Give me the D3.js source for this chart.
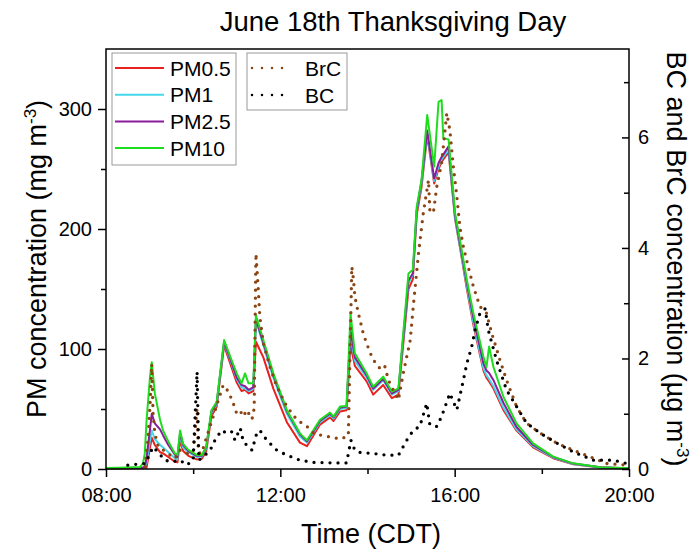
<!DOCTYPE html>
<html>
<head>
<meta charset="utf-8">
<script src="https://cdn.jsdelivr.net/npm/d3@7"></script>
<style>
  body { margin: 0; background: #fff; }
  svg { font-family: "Liberation Sans", Arial, sans-serif; }
</style>
</head>
<body>
<svg id="chart"></svg>
<script>
// time in decimal hours (CDT)
const pmTime = [8.00, 8.30, 8.60, 8.78, 8.85, 8.89, 8.93, 9.01, 9.05, 9.12,
  9.24, 9.31, 9.43, 9.58, 9.64, 9.70, 9.77, 9.89, 10.08, 10.20,
  10.30, 10.42, 10.54, 10.71, 10.85, 11.00, 11.11, 11.19, 11.27, 11.38,
  11.44, 11.61, 11.84, 12.15, 12.45, 12.61, 12.91, 13.14, 13.22, 13.37,
  13.52, 13.61, 13.71, 13.98, 14.13, 14.36, 14.56, 14.71, 14.94, 15.04,
  15.13, 15.24, 15.37, 15.53, 15.63, 15.70, 15.74, 15.86, 16.01, 16.12,
  16.28, 16.43, 16.66, 16.73, 16.79, 16.89, 17.12, 17.42, 17.80, 18.26,
  18.72, 19.34, 20.00];

const pm05 = [0.5, 0.5, 0.6, 0.6, 0.7, 0.8, 1, 18, 26, 20,
  14, 13, 10, 6, 5.5, 24, 15, 11, 8, 8.5,
  15, 44, 52, 103, 88, 72, 65, 66, 63, 65,
  106, 93, 67, 39, 22, 19, 37, 43, 40, 48,
  49, 103, 86, 73, 62, 70, 59, 62, 150, 158,
  212, 235, 278, 238, 250, 256, 258, 264, 208, 185,
  150, 120, 82, 76, 73, 67, 49, 32, 18, 9,
  4, 1.2, 0.5];

const pm1 = [0.6, 0.6, 0.8, 0.8, 0.9, 1.2, 5, 24, 32, 25,
  20, 18, 14, 9, 8, 28, 18, 14, 10, 10.5,
  17, 47, 54, 105, 91, 75, 68, 67, 65, 67,
  124, 103, 76, 46, 27, 22, 39, 45, 42, 50,
  51, 112, 90, 76, 66, 74, 62, 65, 155, 162,
  215, 238, 280, 240, 252, 258, 260, 266, 209, 186,
  152, 122, 84, 78, 75, 69, 51, 33, 19, 9.5,
  4.2, 1.3, 0.5];

const pm25 = [0.7, 0.7, 0.9, 1.0, 1.2, 2, 9, 33, 46, 38,
  33, 28, 20, 12, 10, 30, 20, 15, 11, 11,
  18, 48, 55, 106, 92, 76, 70, 69, 66, 68,
  125, 105, 78, 48, 29, 23, 40, 46, 43, 51,
  52, 116, 93, 78, 67, 75, 63, 66, 157, 163,
  216, 240, 282, 242, 255, 260, 262, 269, 211, 188,
  155, 126, 88, 82, 80, 74, 55, 35, 20, 10,
  4.5, 1.4, 0.6];

const pm10 = [0.8, 1.0, 1.4, 1.6, 5, 13, 40, 77, 89, 63,
  41, 32, 23, 13, 11.7, 32, 21, 16, 11.7, 11.7,
  18.6, 49, 56, 107.5, 93.6, 79.7, 71.4, 79.7, 71.4, 71.4,
  128, 107.5, 79.7, 49, 29.7, 24, 41, 47, 43.6, 52,
  52.5, 129.7, 96.4, 79.7, 68.6, 77, 64.4, 67.2, 163, 166,
  218.6, 240.8, 295, 252, 306, 307.5, 275.6, 274.7, 213, 191,
  157.5, 129.7, 93.6, 85, 102, 85, 60, 38, 21.4, 10.3,
  4.7, 1.4, 0.6];

const brcTime = [8.90, 8.97, 9.02, 9.05, 9.08, 9.12, 9.20, 9.30, 9.47, 9.58,
  9.70, 9.85, 10.00, 10.09, 10.12, 10.19, 10.31, 10.46, 10.58, 10.69,
  10.81, 10.92, 11.00, 11.08, 11.15, 11.23, 11.35, 11.40, 11.44, 11.49,
  11.53, 11.61, 11.76, 11.92, 12.15, 12.38, 12.61, 12.76, 12.99, 13.22,
  13.37, 13.56, 13.64, 13.68, 13.71, 13.79, 13.90, 13.98, 14.10, 14.21,
  14.33, 14.40, 14.48, 14.59, 14.71, 14.82, 14.98, 15.05, 15.17, 15.28,
  15.40, 15.43, 15.51, 15.59, 15.70, 15.82, 15.89, 15.97, 16.05, 16.12,
  16.20, 16.31, 16.43, 16.58, 16.73, 16.85, 17.04, 17.19, 17.42, 17.65,
  17.96, 18.34, 18.72, 19.11, 19.49, 19.95];

const brc = [0.05, 0.6, 1.3, 1.9, 1.0, 0.65, 0.4, 0.35, 0.25, 0.19,
  0.34, 0.28, 0.30, 1.1, 0.3, 0.28, 0.58, 0.95, 1.25, 1.52,
  1.4, 1.19, 1.0, 1.05, 0.95, 1.07, 0.9, 1.1, 3.9, 3.3,
  2.76, 2.27, 1.85, 1.49, 1.13, 0.89, 0.77, 0.65, 0.6, 0.57,
  0.54, 0.6, 3.66, 3.42, 3.12, 2.82, 2.46, 2.27, 2.03, 1.88,
  1.79, 1.85, 1.61, 1.43, 1.25, 1.73, 2.33, 2.94, 3.9, 4.63,
  5.23, 4.69, 4.63, 5.11, 5.53, 6.44, 6.13, 5.47, 4.93, 4.38,
  4.02, 3.66, 3.3, 2.94, 2.82, 2.46, 1.97, 1.61, 1.13, 0.83,
  0.65, 0.47, 0.34, 0.22, 0.1, 0.07];

const bcTime = [8.50, 8.90, 9.01, 9.08, 9.20, 9.35, 9.50, 9.70, 9.85, 10.00,
  10.09, 10.13, 10.23, 10.39, 10.50, 10.65, 10.77, 10.88, 10.96, 11.08,
  11.15, 11.23, 11.35, 11.46, 11.53, 11.69, 11.92, 12.15, 12.45, 12.76,
  13.22, 13.52, 13.62, 13.71, 13.83, 14.13, 14.44, 14.71, 14.90, 15.05,
  15.20, 15.36, 15.43, 15.59, 15.70, 15.89, 16.05, 16.20, 16.28, 16.39,
  16.47, 16.58, 16.70, 16.77, 16.96, 17.19, 17.42, 17.65, 17.96, 18.34,
  18.72, 19.18, 19.64, 19.95];

const bc = [0.07, 0.1, 0.28, 0.4, 0.3, 0.16, 0.13, 0.16, 0.07, 0.16,
  1.76, 0.16, 0.22, 0.34, 0.52, 0.7, 0.65, 0.68, 0.52, 0.74,
  0.5, 0.43, 0.34, 0.65, 0.7, 0.52, 0.34, 0.25, 0.16, 0.12,
  0.11, 0.11, 0.52, 0.34, 0.3, 0.28, 0.25, 0.25, 0.52, 0.7,
  0.77, 1.19, 0.8, 0.77, 0.95, 1.37, 1.07, 1.61, 1.91, 2.21,
  2.52, 2.82, 2.9, 2.52, 1.97, 1.43, 1.13, 0.83, 0.65, 0.47,
  0.31, 0.16, 0.16, 0.1];

const xTicks = [8, 12, 16, 20];
const xMinor = [10, 14, 18];
const pmTicks = [0, 100, 200, 300];
const pmMinor = [50, 150, 250];
const bcTicks = [0, 2, 4, 6];
const bcMinor = [1, 3, 5, 7];

const pmSeries = [
  { name: 'PM0.5', values: pm05, color: '#e8201e' },
  { name: 'PM1', values: pm1, color: '#45d8ea' },
  { name: 'PM2.5', values: pm25, color: '#8a1b9a' },
  { name: 'PM10', values: pm10, color: '#1edc1e' }
];
const carbonSeries = [
  { name: 'BrC', time: brcTime, values: brc, color: '#8b4513' },
  { name: 'BC', time: bcTime, values: bc, color: '#000000' }
];

const width = 698;
const height = 552;
const margin = { top: 49, right: 69, bottom: 83, left: 106 };

const svg = d3.select('#chart').attr('width', width).attr('height', height);

const x = d3.scaleLinear().domain([8, 20]).range([margin.left, width - margin.right]);
const yPm = d3.scaleLinear().domain([0, 350]).range([height - margin.bottom, margin.top]);
const yBc = d3.scaleLinear().domain([0, 7.6]).range([height - margin.bottom, margin.top]);

const fmtTime = (d) => d3.format('02')(d) + ':00';

// PM lines
const pmLine = (vals) => d3.line()
  .x((d, i) => x(pmTime[i]))
  .y((d) => yPm(d))(vals);

svg.append('g')
  .selectAll('path')
  .data(pmSeries)
  .enter()
  .append('path')
  .attr('d', (d) => pmLine(d.values))
  .attr('fill', 'none')
  .attr('stroke', (d) => d.color)
  .attr('stroke-width', 2)
  .attr('stroke-linejoin', 'round');

// BrC / BC dotted
svg.append('g')
  .selectAll('path')
  .data(carbonSeries)
  .enter()
  .append('path')
  .attr('d', (s) => d3.line()
    .x((d, i) => x(s.time[i]))
    .y((d) => yBc(d))(s.values))
  .attr('fill', 'none')
  .attr('stroke', (d) => d.color)
  .attr('stroke-width', 3.3)
  .attr('stroke-linecap', 'round')
  .attr('stroke-dasharray', '0 8');

// axes
const styleAxis = (g) => {
  g.select('.domain').remove();
  g.selectAll('line').attr('stroke', '#000').attr('stroke-width', 1.5);
  g.selectAll('text').attr('fill', '#000').style('font-size', '20px');
};

const yBase = height - margin.bottom;

svg.append('g')
  .attr('transform', `translate(0,${yBase})`)
  .call(d3.axisBottom(x).tickValues(xTicks).tickFormat(fmtTime).tickSize(8).tickPadding(11))
  .call(styleAxis);
svg.append('g')
  .attr('transform', `translate(0,${yBase})`)
  .call(d3.axisBottom(x).tickValues(xMinor).tickFormat('').tickSize(5))
  .call(styleAxis);

svg.append('g')
  .attr('transform', `translate(${margin.left},0)`)
  .call(d3.axisLeft(yPm).tickValues(pmTicks).tickSize(8).tickPadding(6))
  .call(styleAxis);
svg.append('g')
  .attr('transform', `translate(${margin.left},0)`)
  .call(d3.axisLeft(yPm).tickValues(pmMinor).tickFormat('').tickSize(5))
  .call(styleAxis);

svg.append('g')
  .attr('transform', `translate(${width - margin.right},0)`)
  .call(d3.axisRight(yBc).tickValues(bcTicks).tickSize(-7).tickPadding(9))
  .call(styleAxis);
svg.append('g')
  .attr('transform', `translate(${width - margin.right},0)`)
  .call(d3.axisRight(yBc).tickValues(bcMinor).tickFormat('').tickSize(-5))
  .call(styleAxis);

// frame
svg.append('rect')
  .attr('x', margin.left)
  .attr('y', margin.top)
  .attr('width', width - margin.left - margin.right)
  .attr('height', height - margin.top - margin.bottom)
  .attr('fill', 'none')
  .attr('stroke', '#000')
  .attr('stroke-width', 1.5);

// title
svg.append('text')
  .attr('x', 393)
  .attr('y', 31)
  .attr('text-anchor', 'middle')
  .style('font-size', '27.5px')
  .text('June 18th Thanksgiving Day');

// x label
svg.append('text')
  .attr('x', 371)
  .attr('y', 543)
  .attr('text-anchor', 'middle')
  .style('font-size', '27px')
  .text('Time (CDT)');

// left label
const yl = svg.append('text')
  .attr('transform', `translate(46,${(margin.top + yBase) / 2}) rotate(-90)`)
  .attr('text-anchor', 'middle')
  .style('font-size', '27px');
yl.append('tspan').text('PM concentration (mg m');
yl.append('tspan').attr('dy', -10).style('font-size', '17px').text('-3');
yl.append('tspan').attr('dy', 10).text(')');

// right label
const yr = svg.append('text')
  .attr('transform', `translate(667,${(margin.top + yBase) / 2}) rotate(90)`)
  .attr('text-anchor', 'middle')
  .style('font-size', '27px');
yr.append('tspan').text('BC and BrC concentration (\u00b5g m');
yr.append('tspan').attr('dy', -10).style('font-size', '17px').text('-3');
yr.append('tspan').attr('dy', 10).text(')');

// legend PM
const leg1 = svg.append('g');
leg1.append('rect')
  .attr('x', 112).attr('y', 53).attr('width', 124).attr('height', 112)
  .attr('fill', '#fff').attr('stroke', '#999').attr('stroke-width', 1);
pmSeries.forEach((s, i) => {
  const cy = 68 + i * 26.7;
  leg1.append('line')
    .attr('x1', 115).attr('x2', 164).attr('y1', cy).attr('y2', cy)
    .attr('stroke', s.color).attr('stroke-width', 2);
  leg1.append('text')
    .attr('x', 170).attr('y', cy + 7.5)
    .style('font-size', '21px')
    .text(s.name);
});

// legend carbon
const leg2 = svg.append('g');
leg2.append('rect')
  .attr('x', 247).attr('y', 53).attr('width', 100).attr('height', 57)
  .attr('fill', '#fff').attr('stroke', '#999').attr('stroke-width', 1);
carbonSeries.forEach((s, i) => {
  const cy = 68 + i * 27;
  leg2.append('line')
    .attr('x1', 252).attr('x2', 292).attr('y1', cy).attr('y2', cy)
    .attr('stroke', s.color).attr('stroke-width', 2.5)
    .attr('stroke-linecap', 'round')
    .attr('stroke-dasharray', '0 10');
  leg2.append('text')
    .attr('x', 305).attr('y', cy + 7.5)
    .style('font-size', '21px')
    .text(s.name);
});
</script>
</body>
</html>
